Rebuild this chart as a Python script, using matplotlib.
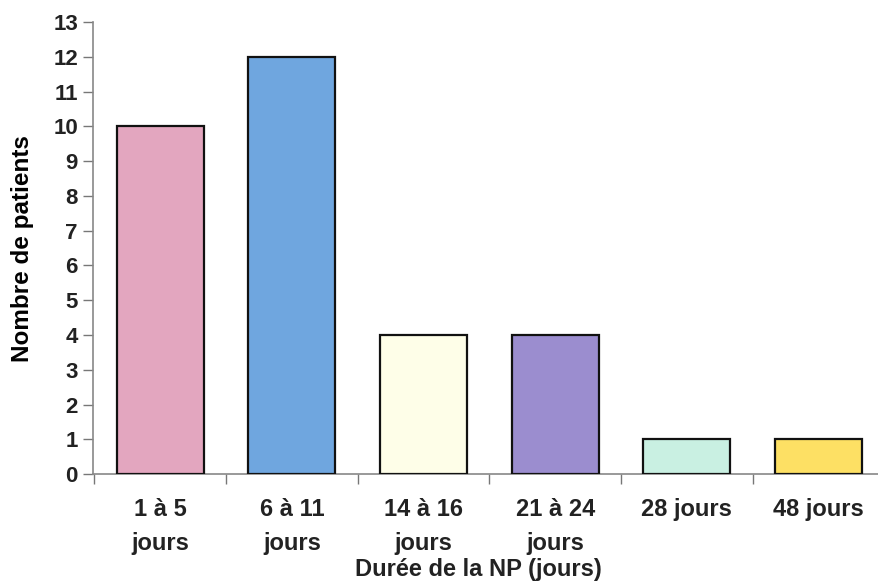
import numpy as np
import matplotlib.pyplot as plt

plt.rcParams['font.family'] = ['Liberation Sans', 'DejaVu Sans']
plt.rcParams['font.weight'] = 'bold'
plt.rcParams['text.color'] = '#222222'

# Durée de la nutrition parentérale et nombre de patients
categories = ['1 à 5\njours', '6 à 11\njours', '14 à 16\njours',
              '21 à 24\njours', '28 jours', '48 jours']
patients = [10, 12, 4, 4, 1, 1]
colors = ['#E3A6BF', '#6FA6DF', '#FEFEE8', '#9B8DCF', '#C9F0E2', '#FDE064']

fig = plt.figure(figsize=(8.79, 5.81), dpi=100)
ax = fig.add_axes([0.106, 0.184, 0.894, 0.778])

x = np.arange(len(categories))
ax.bar(x, patients, width=0.66, color=colors, edgecolor='#111111', linewidth=1.6, zorder=3)

ax.set_xlim(-0.51, len(categories) - 0.54)
ax.set_ylim(0, 13)
ax.set_yticks(range(0, 14))
ax.tick_params(axis='y', labelsize=16, length=7, width=1, color='#777777',
               pad=4, labelcolor='#222222')

# ticks between categories, labels centred under bars
ax.set_xticks(np.arange(len(categories)) - 0.5)
ax.set_xticks(x, minor=True)
ax.set_xticklabels([''] * len(categories))
ax.set_xticklabels(categories, minor=True, fontsize=17, linespacing=1.6, va='top')
ax.tick_params(axis='x', which='major', length=7, width=1, color='#777777', direction='out')
ax.tick_params(axis='x', which='minor', length=0, pad=17, labelcolor='#222222')

for side in ['top', 'right']:
    ax.spines[side].set_visible(False)
for side in ['left', 'bottom']:
    ax.spines[side].set_color('#888888')
    ax.spines[side].set_linewidth(1.2)

ax.set_ylabel('Nombre de patients', fontsize=17.5, fontweight='bold', labelpad=14)
fig.text(0.544, 0.0, 'Durée de la NP (jours)', ha='center', va='bottom',
         fontsize=17, fontweight='bold')

fig.savefig('out.png', dpi=100)
